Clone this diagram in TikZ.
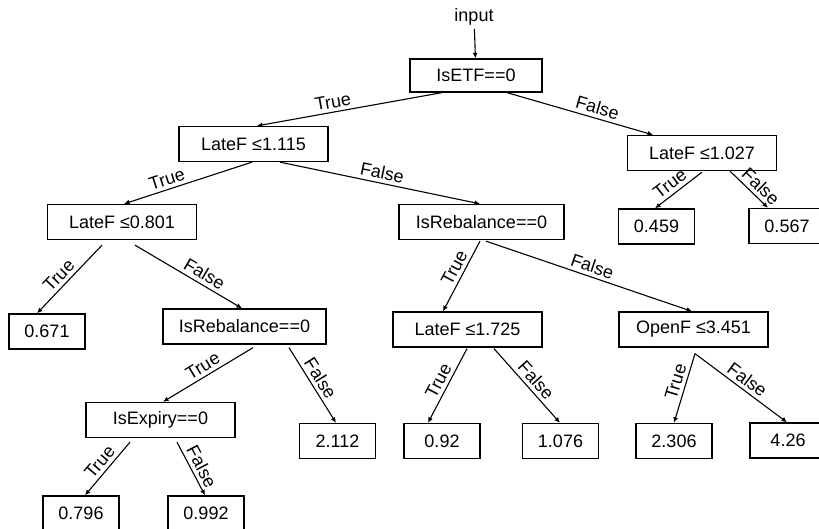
\documentclass[tikz,border=0pt]{standalone}
\usepackage{fontspec}
\setmainfont{Liberation Sans}
\usepackage{tikz}
\usetikzlibrary{arrows.meta}

\begin{document}
\begin{tikzpicture}[x=1pt,y=-1pt,
    every node/.style={font=\fontsize{18}{21}\selectfont},
    test/.style={draw, line width=1.3pt, minimum width=149pt, minimum height=35pt, inner sep=2pt},
    leaf/.style={draw, line width=1.3pt, minimum width=76pt, minimum height=35pt, inner sep=2pt},
    edge/.style={line width=1.1pt, -{Latex[length=5.5pt,width=5pt]}},
    lbl/.style={sloped, above, inner sep=3.5pt}]
    \useasboundingbox (0,0) rectangle (819,529);
    \clip (0,0) rectangle (819,529);

    \node (input) at (474,17) {input};
    \node[test, minimum width=132pt, minimum height=33pt] (etf) at (476,75.5) {IsETF==0};
    \node[test] (lf1115) at (253.5,144) {LateF ≤1.115};
    \node[test] (lf1027) at (702,153) {LateF ≤1.027};
    \node[test] (lf0801) at (122,222) {LateF ≤0.801};
    \node[test, minimum width=165pt] (rebR) at (481.5,222) {IsRebalance==0};
    \node[test, minimum width=163pt] (rebL) at (244.5,326.5) {IsRebalance==0};
    \node[test] (lf1725) at (467.5,329.5) {LateF ≤1.725};
    \node[test] (openF) at (693.5,329.5) {OpenF ≤3.451};
    \node[test] (exp) at (160.5,420) {IsExpiry==0};

    \node[leaf] (v0671) at (47,331.5) {0.671};
    \node[leaf] (v0459) at (656.5,226.5) {0.459};
    \node[leaf] (v0567) at (787,226) {0.567};
    \node[leaf] (v2112) at (337.5,441) {2.112};
    \node[leaf] (v092) at (442,441) {0.92};
    \node[leaf] (v1076) at (560.5,441) {1.076};
    \node[leaf] (v2306) at (674,441) {2.306};
    \node[leaf] (v426) at (788,440.5) {4.26};
    \node[leaf] (v0796) at (81,513.5) {0.796};
    \node[leaf] (v0992) at (206,513.5) {0.992};

    \draw[edge] (input) -- (etf);
    % first split
    \draw[edge] ([xshift=-34pt]etf.south) -- node[lbl, pos=0.58] {True} ([xshift=3.5pt]lf1115.north);
    \draw[edge] ([xshift=31pt]etf.south) -- node[lbl, pos=0.6] {False} ([xshift=-49pt]lf1027.north);
    % left branch
    \draw[edge] ([xshift=-1.5pt]lf1115.south) -- node[lbl, pos=0.64] {True} ([xshift=2pt]lf0801.north);
    \draw[edge] ([xshift=26.5pt]lf1115.south) -- node[lbl, pos=0.5] {False} ([xshift=-1.5pt]rebR.north);
    \draw[edge] ([xshift=-20pt,yshift=-5pt]lf0801.south) -- node[lbl, pos=0.55] {True} ([xshift=-10pt]v0671.north);
    \draw[edge] ([xshift=13pt,yshift=-5pt]lf0801.south) -- node[lbl, pos=0.6] {False} ([xshift=-2.5pt]rebL.north);
    \draw[edge] ([xshift=8.5pt,yshift=-3pt]rebL.south) -- node[lbl, pos=0.5] {True} ([xshift=2.5pt]exp.north);
    \draw[edge] ([xshift=44.5pt,yshift=-3pt]rebL.south) -- node[lbl, pos=0.48] {False} ([xshift=-1.5pt]v2112.north);
    \draw[edge] ([xshift=-30.5pt,yshift=-4pt]exp.south) -- node[lbl, pos=0.5] {True} ([xshift=4pt]v0796.north);
    \draw[edge] ([xshift=16.5pt,yshift=-4pt]exp.south) -- node[lbl, pos=0.55] {False} ([xshift=-1pt]v0992.north);
    % right branch
    \draw[edge] ([yshift=-1pt]lf1027.south) -- node[lbl, pos=0.55] {True} ([xshift=-1.5pt]v0459.north);
    \draw[edge] ([xshift=28pt]lf1027.south) -- node[lbl, pos=0.62] {False} ([xshift=-19pt]v0567.north);
    \draw[edge] ([xshift=-1.5pt,yshift=-1pt]rebR.south) -- node[lbl, pos=0.45] {True} ([xshift=-24.5pt]lf1725.north);
    \draw[edge] ([xshift=4.5pt,yshift=-1pt]rebR.south) -- node[lbl, pos=0.5] {False} ([xshift=-1.5pt]openF.north);
    \draw[edge] ([xshift=-0.5pt,yshift=-1pt]lf1725.south) -- node[lbl, pos=0.5] {True} ([xshift=-14pt]v092.north);
    \draw[edge] ([xshift=26.5pt,yshift=-1pt]lf1725.south) -- node[lbl, pos=0.52] {False} ([xshift=-0.5pt]v1076.north);
    \draw[edge] ([xshift=1.5pt,yshift=-6pt]openF.south) -- node[lbl, pos=0.45] {True} (v2306.north);
    \draw[edge] ([xshift=1.5pt,yshift=-6pt]openF.south) -- node[lbl, pos=0.5] {False} ([xshift=-1pt]v426.north);
\end{tikzpicture}
\end{document}
